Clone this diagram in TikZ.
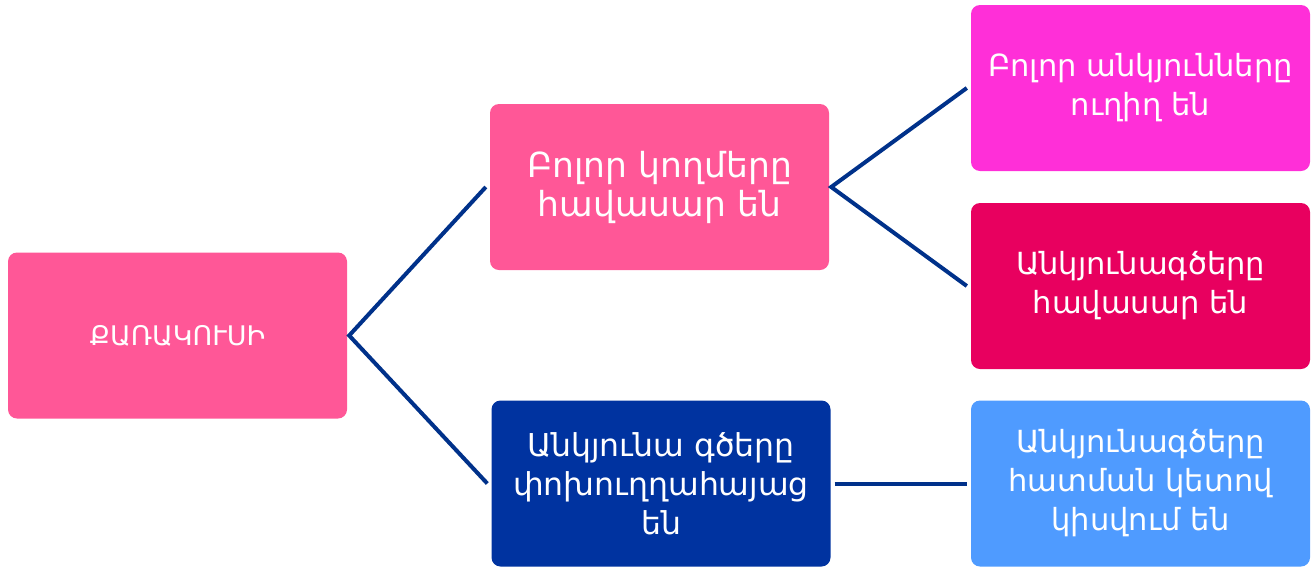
\documentclass[tikz,border=0pt]{standalone}
\usepackage{fontspec}
\setmainfont{DejaVu Sans}
\definecolor{pinkA}{HTML}{FF5797}
\definecolor{magA}{HTML}{FF2FD8}
\definecolor{redA}{HTML}{E8005F}
\definecolor{navyA}{HTML}{0033A0}
\definecolor{blueA}{HTML}{4F9BFF}
\definecolor{lineA}{HTML}{00318A}
\begin{document}
\begin{tikzpicture}[x=1pt,y=-1pt,
  box/.style={rounded corners=9pt, text=white, align=center, inner sep=0pt,
     minimum width=339pt, minimum height=166pt, text width=330pt,
     font=\fontsize{30.5}{39}\selectfont},
  conn/.style={draw=lineA, line width=4pt}]
\useasboundingbox (0,0) rectangle (1311,566);
\node[box, fill=pinkA, font=\fontsize{27}{32}\selectfont] (root) at (177.5,335.5) {ՔԱՌԱԿՈՒՍԻ};
\node[box, fill=pinkA, font=\fontsize{34.5}{39}\selectfont] (m1) at (659.5,187) {Բոլոր կողմերը\\հավասար են};
\node[box, fill=navyA, font=\fontsize{31.5}{39}\selectfont] (m2) at (661,483.5) {Անկյունա գծերը\\փոխուղղահայաց\\են};
\node[box, fill=magA] (r1) at (1140.5,88) {Բոլոր անկյունները\\ուղիղ են};
\node[box, fill=redA] (r2) at (1140.5,286) {Անկյունագծերը\\հավասար են};
\node[box, fill=blueA] (r3) at (1140.5,483.5) {Անկյունագծերը\\հատման կետով\\կիսվում են};
\draw[conn] ([xshift=-4pt]m1.west) -- ([xshift=2pt]root.east) -- ([xshift=-4pt]m2.west);
\draw[conn] ([xshift=-4pt]r1.west) -- ([xshift=2pt]m1.east) -- ([xshift=-4pt]r2.west);
\draw[conn] ([xshift=4pt]m2.east) -- ([xshift=-4pt]r3.west);
\end{tikzpicture}
\end{document}
